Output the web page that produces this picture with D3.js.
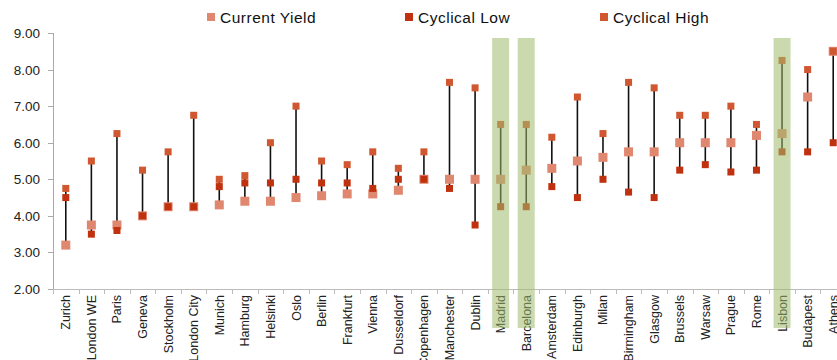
<!DOCTYPE html>
<html><head><meta charset="utf-8">
<script src="https://cdn.jsdelivr.net/npm/d3@7"></script>
<style>body{margin:0;background:#fff}svg{display:block;font-family:"Liberation Sans",Arial,sans-serif}</style>
</head><body>
<svg id="c" width="837" height="360"></svg>
<script>
const categories = ["Zurich","London WE","Paris","Geneva","Stockholm","London City","Munich","Hamburg","Helsinki","Oslo","Berlin","Frankfurt","Vienna","Dusseldorf","Copenhagen","Manchester","Dublin","Madrid","Barcelona","Amsterdam","Edinburgh","Milan","Birmingham","Glasgow","Brussels","Warsaw","Prague","Rome","Lisbon","Budapest","Athens"];
const currentYield = [3.2,3.75,3.75,4.0,4.25,4.25,4.3,4.4,4.4,4.5,4.55,4.6,4.6,4.7,5.0,5.0,5.0,5.0,5.25,5.3,5.5,5.6,5.75,5.75,6.0,6.0,6.0,6.2,6.25,7.25,8.5];
const cyclicalLow = [4.5,3.5,3.6,4.0,4.25,4.25,4.8,4.9,4.9,5.0,4.9,4.9,4.75,5.0,5.0,4.75,3.75,4.25,4.25,4.8,4.5,5.0,4.65,4.5,5.25,5.4,5.2,5.25,5.75,5.75,6.0];
const cyclicalHigh = [4.75,5.5,6.25,5.25,5.75,6.75,5.0,5.1,6.0,7.0,5.5,5.4,5.75,5.3,5.75,7.65,7.5,6.5,6.5,6.15,7.25,6.25,7.65,7.5,6.75,6.75,7.0,6.5,8.25,8.0,8.5];
const highlighted = ["Madrid","Barcelona","Lisbon"];
const yTicks = [2,3,4,5,6,7,8,9];

const svg = d3.select("#c");
const x = d3.scaleBand().domain(categories).range([53, 846]).padding(0);
const y = d3.scaleLinear().domain([2, 9]).range([289, 33]);
const col = {cur:"#E0876F", low:"#C0320F", high:"#D0572F"};
const data = categories.map((c,i)=>({c, cur:currentYield[i], low:cyclicalLow[i], high:cyclicalHigh[i]}));
const cx = d => x(d.c) + x.bandwidth()/2;

// y axis
svg.append("line").attr("x1",53.5).attr("x2",53.5).attr("y1",y(9)).attr("y2",y(2)).attr("stroke","#aaa");
const yt = svg.append("g");
yTicks.forEach(t=>{
  yt.append("line").attr("x1",48).attr("x2",53).attr("y1",Math.round(y(t))+0.5).attr("y2",Math.round(y(t))+0.5).attr("stroke","#aaa");
  yt.append("text").attr("x",40).attr("y",y(t)+5).attr("text-anchor","end").attr("font-size",13.5).attr("fill","#222").text(t.toFixed(2));
});
// x axis
svg.append("line").attr("x1",53).attr("x2",846).attr("y1",289.5).attr("y2",289.5).attr("stroke","#bbb");
categories.forEach(c=>{
  const xx = Math.round(x(c))+0.5;
  svg.append("line").attr("x1",xx).attr("x2",xx).attr("y1",289).attr("y2",294).attr("stroke","#bbb");
});
svg.append("g").selectAll("text").data(categories).join("text")
  .attr("transform",c=>`translate(${x(c)+x.bandwidth()/2+4.5},295) rotate(-90)`)
  .attr("text-anchor","end").attr("font-size",12.5).attr("fill","#222").text(c=>c);

// range lines
svg.append("g").selectAll("line").data(data).join("line")
  .attr("x1",cx).attr("x2",cx)
  .attr("y1",d=>y(Math.max(d.cur,d.low,d.high))).attr("y2",d=>y(Math.min(d.cur,d.low,d.high)))
  .attr("stroke","#111").attr("stroke-width",1.6);
// markers
const sq = (cls, key, s, fill) => svg.append("g").selectAll("rect").data(data).join("rect")
  .attr("x",d=>cx(d)-s/2).attr("y",d=>y(d[key])-s/2).attr("width",s).attr("height",s).attr("fill",fill);
sq("cur","cur",9,col.cur);
sq("low","low",7,col.low);
sq("high","high",7,col.high);

// highlight bands
svg.append("g").selectAll("rect").data(highlighted).join("rect")
  .attr("x",c=>x(c)+x.bandwidth()/2-8.5).attr("width",17).attr("y",38).attr("height",290)
  .attr("fill","#9EBB6B").attr("opacity",0.55);

// legend
const leg = [["Current Yield",col.cur,207],["Cyclical Low",col.low,405],["Cyclical High",col.high,600]];
leg.forEach(([t,c,lx])=>{
  svg.append("rect").attr("x",lx).attr("y",13).attr("width",8).attr("height",8).attr("fill",c);
  svg.append("text").attr("x",lx+13).attr("y",23).attr("font-size",15.5).attr("fill","#111").attr("letter-spacing",0.5).text(t);
});
</script>
</body></html>
